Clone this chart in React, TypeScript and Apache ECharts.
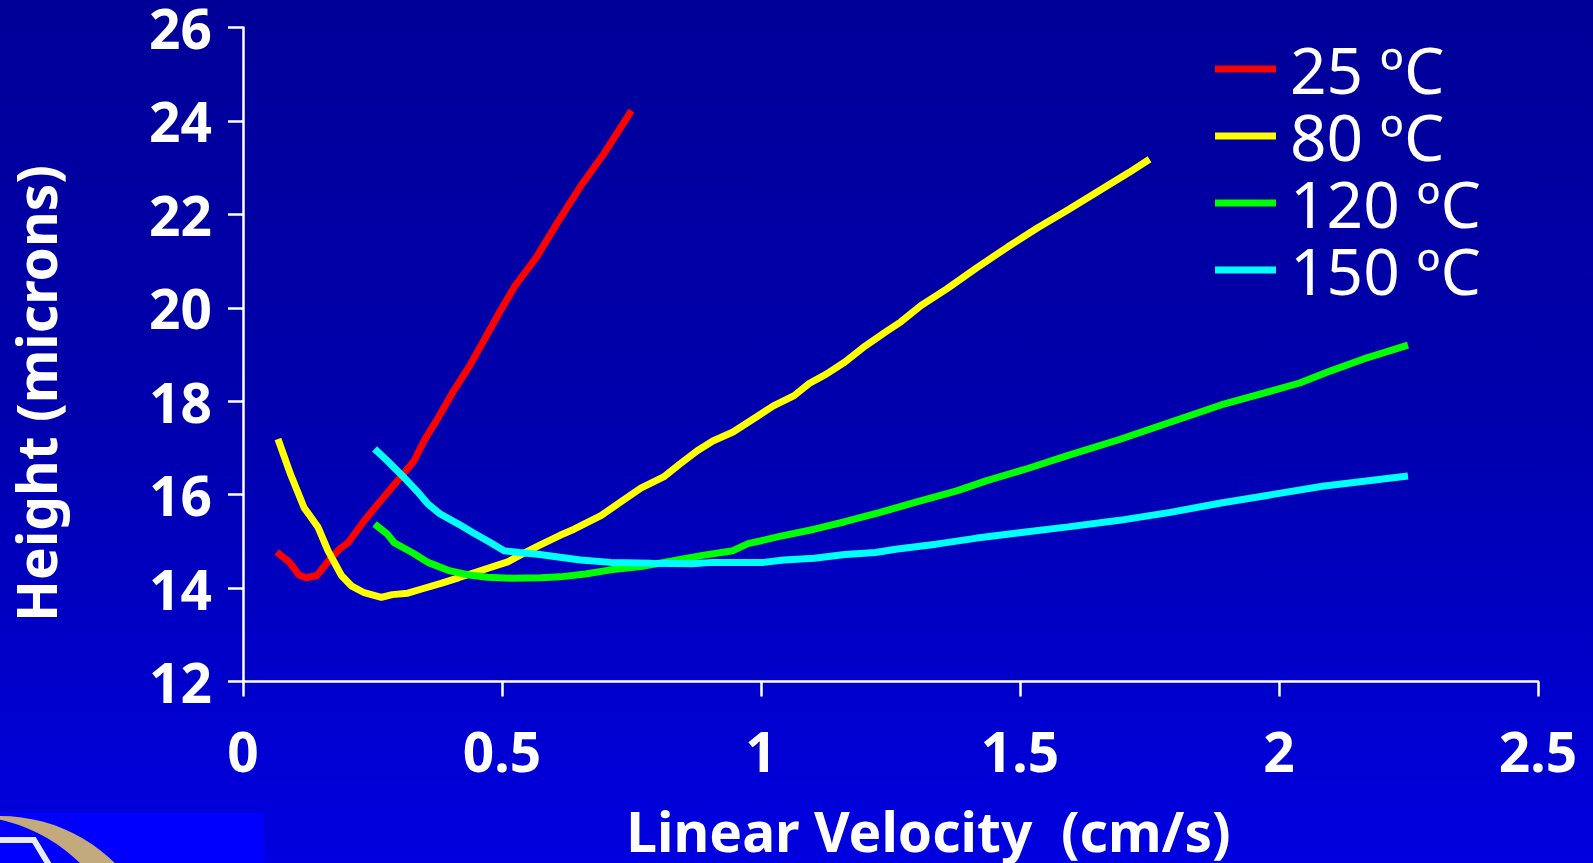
import React, { useEffect, useRef } from "react";
import * as echarts from "echarts";

const seriesNames = ["25 ºC", "80 ºC", "120 ºC", "150 ºC"];
const seriesColors = ["#FF0000", "#FFFF00", "#00FF00", "#00FFFF"];

const xTicks = [0, 0.5, 1, 1.5, 2, 2.5];
const yTicks = [12, 14, 16, 18, 20, 22, 24, 26];

const xTitle = "Linear Velocity  (cm/s)";
const yTitle = "Height (microns)";

const red25: number[][] = [
  [0.065, 14.77], [0.09, 14.55], [0.108, 14.28], [0.122, 14.22], [0.143, 14.27],
  [0.165, 14.58], [0.186, 14.83], [0.203, 14.97], [0.234, 15.44], [0.259, 15.78],
  [0.285, 16.12], [0.31, 16.45], [0.33, 16.72], [0.351, 17.18], [0.377, 17.65],
  [0.406, 18.21], [0.436, 18.73], [0.465, 19.3], [0.495, 19.9], [0.524, 20.45],
  [0.567, 21.09], [0.608, 21.84], [0.651, 22.59], [0.695, 23.27], [0.75, 24.22],
];

const yellow80: number[][] = [
  [0.0675, 17.19], [0.092, 16.43], [0.118, 15.72], [0.145, 15.3], [0.164, 14.8],
  [0.19, 14.27], [0.21, 14.04], [0.234, 13.9], [0.267, 13.8], [0.288, 13.86],
  [0.318, 13.89], [0.345, 13.98], [0.382, 14.1], [0.416, 14.22], [0.455, 14.36],
  [0.511, 14.56], [0.534, 14.7], [0.573, 14.92], [0.612, 15.13], [0.639, 15.26],
  [0.691, 15.55], [0.73, 15.85], [0.768, 16.14], [0.812, 16.38], [0.844, 16.66],
  [0.877, 16.94], [0.907, 17.15], [0.946, 17.34], [0.985, 17.62], [1.024, 17.9],
  [1.064, 18.12], [1.093, 18.38], [1.126, 18.58], [1.162, 18.84], [1.201, 19.18],
  [1.24, 19.48], [1.27, 19.7], [1.309, 20.05], [1.358, 20.4], [1.417, 20.86],
  [1.476, 21.3], [1.535, 21.72], [1.593, 22.1], [1.652, 22.5], [1.711, 22.9],
  [1.75, 23.18],
];

const green120: number[][] = [
  [0.254, 15.37], [0.279, 15.15], [0.292, 14.97], [0.328, 14.75], [0.357, 14.55],
  [0.396, 14.38], [0.436, 14.28], [0.472, 14.23], [0.52, 14.21], [0.575, 14.22],
  [0.612, 14.24], [0.661, 14.3], [0.71, 14.39], [0.768, 14.46], [0.828, 14.58],
  [0.887, 14.7], [0.946, 14.8], [0.975, 14.95], [1.034, 15.1], [1.103, 15.26],
  [1.162, 15.42], [1.23, 15.62], [1.299, 15.84], [1.378, 16.08], [1.436, 16.3],
  [1.515, 16.56], [1.593, 16.84], [1.692, 17.18], [1.79, 17.55], [1.888, 17.92],
  [1.986, 18.22], [2.04, 18.39], [2.1, 18.65], [2.162, 18.9], [2.249, 19.2],
];

const cyan150: number[][] = [
  [0.254, 16.98], [0.279, 16.72], [0.308, 16.4], [0.337, 16.06], [0.357, 15.8],
  [0.38, 15.59], [0.416, 15.37], [0.445, 15.18], [0.475, 14.99], [0.504, 14.8],
  [0.534, 14.76], [0.573, 14.72], [0.612, 14.66], [0.651, 14.6], [0.71, 14.55],
  [0.789, 14.53], [0.867, 14.52], [0.907, 14.55], [1.005, 14.55], [1.044, 14.6],
  [1.103, 14.64], [1.162, 14.72], [1.221, 14.76], [1.26, 14.83], [1.338, 14.94],
  [1.417, 15.07], [1.495, 15.18], [1.593, 15.31], [1.692, 15.45], [1.79, 15.62],
  [1.888, 15.82], [1.986, 16.0], [2.084, 16.18], [2.249, 16.4],
];

const seriesData = [red25, yellow80, green120, cyan150];

export default function App() {
  const ref = useRef<HTMLDivElement>(null);

  useEffect(() => {
    if (!ref.current) return;
    const chart = echarts.init(ref.current, null, { renderer: "svg" });
    const font = "'Noto Sans', 'DejaVu Sans', sans-serif";
    chart.setOption({
      animation: false,
      backgroundColor: {
        type: "linear",
        x: 0, y: 0, x2: 0, y2: 1,
        colorStops: [
          { offset: 0, color: "#000098" },
          { offset: 0.5, color: "#0000AE" },
          { offset: 0.8, color: "#0000CC" },
          { offset: 1, color: "#0000E0" },
        ],
      },
      grid: { left: 242, top: 22, width: 1296, height: 662, containLabel: false },
      legend: {
        orient: "vertical",
        left: 1215,
        top: 35.5,
        padding: 0,
        itemGap: 0,
        itemWidth: 61,
        itemHeight: 7,
        icon: "rect",
        data: seriesNames,
        textStyle: {
          color: "#FFFFFF",
          fontSize: 64,
          fontFamily: font,
          lineHeight: 45,
          padding: [22, 0, 0, 9],
        },
      },
      xAxis: {
        type: "value",
        min: xTicks[0],
        max: xTicks[xTicks.length - 1],
        interval: xTicks[1] - xTicks[0],
        name: xTitle,
        nameLocation: "middle",
        nameGap: 124,
        nameTextStyle: {
          color: "#FFFFFF",
          fontSize: 55,
          fontWeight: "bold",
          fontFamily: font,
          lineHeight: 50,
          padding: [0, 0, 0, 76],
        },
        axisLine: { show: true, onZero: false, lineStyle: { color: "#FFFFFF", width: 2.5 } },
        axisTick: { show: true, length: 15, lineStyle: { color: "#FFFFFF", width: 2.5 } },
        splitLine: { show: false },
        axisLabel: {
          color: "#FFFFFF",
          fontSize: 55,
          fontWeight: "bold",
          fontFamily: font,
          margin: 41,
        },
      },
      yAxis: {
        type: "value",
        min: yTicks[0],
        max: yTicks[yTicks.length - 1],
        interval: yTicks[1] - yTicks[0],
        name: yTitle,
        nameLocation: "middle",
        nameRotate: 90,
        nameGap: 180,
        nameTextStyle: {
          color: "#FFFFFF",
          fontSize: 55,
          fontWeight: "bold",
          fontFamily: font,
          padding: [0, 78, 0, 0],
        },
        axisLine: { show: true, onZero: false, lineStyle: { color: "#FFFFFF", width: 2.5 } },
        axisTick: { show: true, length: 15, lineStyle: { color: "#FFFFFF", width: 2.5 } },
        splitLine: { show: false },
        axisLabel: {
          color: "#FFFFFF",
          fontSize: 55,
          fontWeight: "bold",
          fontFamily: font,
          margin: 31,
          lineHeight: 28,
          padding: [14, 0, 0, 0],
        },
      },
      series: seriesNames.map((name, i) => ({
        name,
        type: "line",
        data: seriesData[i],
        color: seriesColors[i],
        showSymbol: false,
        symbol: "none",
        lineStyle: { color: seriesColors[i], width: 7 },
        z: 2 + i,
      })),
      graphic: [
        { type: "rect", left: 0, top: 813, shape: { x: 0, y: 0, width: 264, height: 50 }, style: { fill: "#0000FF" }, z: 0 },
        { type: "circle", shape: { cx: 0, cy: 980, r: 164 }, style: { fill: "#C2AA7C" }, z: 1 },
        { type: "circle", shape: { cx: -35, cy: 980, r: 164 }, style: { fill: "#0000FF" }, z: 2 },
        { type: "polyline", shape: { points: [[0, 840], [34, 840], [49, 865]] }, style: { stroke: "#E6ECF8", lineWidth: 6, fill: null }, z: 3 },
      ],
    });
    return () => chart.dispose();
  }, []);

  return (
    <div
      ref={ref}
      style={{ position: "fixed", left: 0, top: 0, width: 1593, height: 863 }}
    />
  );
}
